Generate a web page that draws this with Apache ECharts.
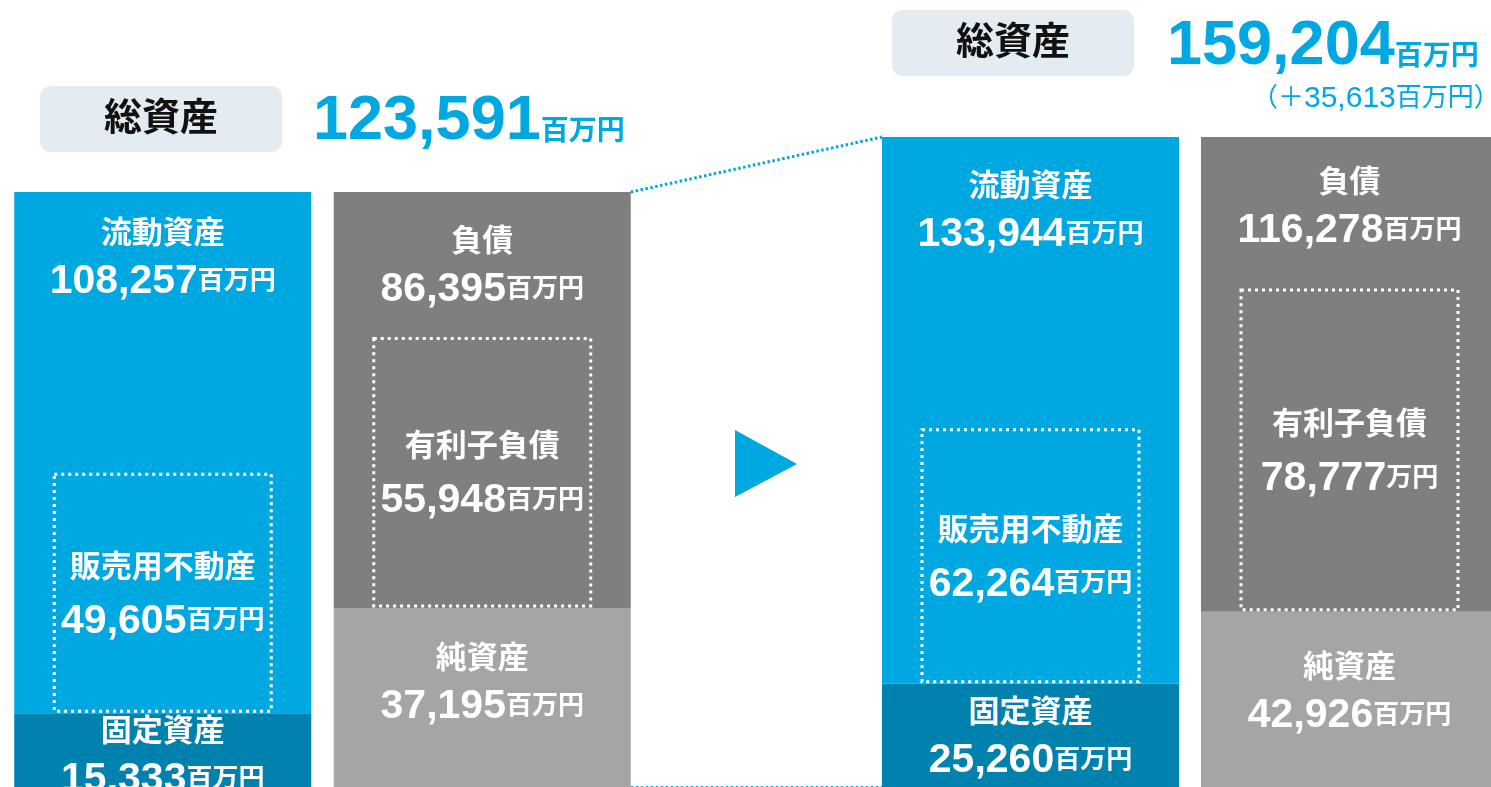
<!DOCTYPE html>
<html>
<head>
<meta charset="utf-8">
<script src="https://cdn.jsdelivr.net/npm/echarts@6/dist/echarts.min.js"></script>
<style>
  html, body { margin: 0; padding: 0; background: #ffffff; }
  #chart { width: 1491px; height: 787px; }
</style>
</head>
<body>
<div id="chart"></div>
<script>
// 貸借対照表の比較（前期末 → 当期末）
const columns = ['資産', '負債・純資産'];
const upperNames = ['流動資産', '負債'];
const lowerNames = ['固定資産', '純資産'];
const boxNames = ['販売用不動産', '有利子負債'];

// 前期末（百万円）
const prevTotal = 123591;
const prevUpper = [108257, 86395];
const prevLower = [15333, 37195];
const prevBox = [49605, 55948];
const prevBoxUnits = ['百万円', '百万円'];

// 当期末（百万円）
const currTotal = 159204;
const currUpper = [133944, 116278];
const currLower = [25260, 42926];
const currBox = [62264, 78777];
const currBoxUnits = ['百万円', '万円'];
const totalChange = 35613;

// ---- styling ----
const FONT = "'Liberation Sans', 'Noto Sans CJK JP', sans-serif";
const BLUE = '#00a8e2';
const upperColors = ['#00a8e2', '#7f7f7f'];
const lowerColors = ['#0081ae', '#a5a5a5'];
const BAR_WIDTH = 297;
const BOX_WIDTH = 217;

const fmt = v => v.toLocaleString('en-US');

const segRich = {
  t: { fontSize: 31, fontWeight: 'bold', color: '#fff', fontFamily: FONT, lineHeight: 47 },
  n: { fontSize: 41, fontWeight: 'bold', color: '#fff', fontFamily: FONT, lineHeight: 48 },
  u: { fontSize: 26, fontWeight: 'bold', color: '#fff', fontFamily: FONT }
};

function segItem(value, name, color, dist) {
  return {
    value: value,
    itemStyle: { color: color },
    label: {
      show: true,
      position: 'insideTop',
      distance: dist,
      formatter: '{t|' + name + '}\n{n|' + fmt(value) + '}{u|百万円}',
      rich: segRich
    }
  };
}

function barSeries(gi, values, names, colors, dists) {
  return {
    type: 'bar',
    xAxisIndex: gi,
    yAxisIndex: gi,
    stack: 'bs' + gi,
    barWidth: BAR_WIDTH,
    silent: true,
    animation: false,
    data: values.map((v, i) => segItem(v, names[i], colors[i], dists[i]))
  };
}

// 内訳（点線枠）: 下段の上に積み上げて描く
function boxSeries(gi, lower, box, units) {
  return {
    type: 'custom',
    xAxisIndex: gi,
    yAxisIndex: gi,
    z: 5,
    silent: true,
    animation: false,
    data: box.map((v, i) => [i, lower[i], v]),
    renderItem: function (params, api) {
      const i = params.dataIndex;
      const x = api.value(0);
      const base = api.value(1);
      const v = api.value(2);
      const pb = api.coord([x, base]);
      const pt = api.coord([x, base + v]);
      const cx = pb[0];
      const top = pt[1];
      const bottom = pb[1] - 2;
      return {
        type: 'group',
        children: [
          {
            type: 'rect',
            shape: { x: cx - BOX_WIDTH / 2, y: top, width: BOX_WIDTH, height: bottom - top },
            style: { fill: 'none', stroke: '#ffffff', lineWidth: 3, lineDash: [3, 4] }
          },
          {
            type: 'text',
            style: {
              x: cx,
              y: (top + bottom) / 2 + 2,
              align: 'center',
              verticalAlign: 'middle',
              text: '{t|' + boxNames[i] + '}\n{n|' + fmt(v) + '}{u|' + units[i] + '}',
              rich: {
                t: { fontSize: 31, fontWeight: 'bold', fill: '#fff', fontFamily: FONT, lineHeight: 53 },
                n: { fontSize: 41, fontWeight: 'bold', fill: '#fff', fontFamily: FONT, lineHeight: 53 },
                u: { fontSize: 26, fontWeight: 'bold', fill: '#fff', fontFamily: FONT }
              }
            }
          }
        ]
      };
    }
  };
}

function totalText(id, x, y, value) {
  return {
    type: 'text', id: id, x: x, y: y,
    style: {
      text: '{n|' + fmt(value) + '}{u|百万円}',
      verticalAlign: 'middle',
      align: 'left',
      rich: {
        n: { fontSize: 63, fontWeight: 'bold', fill: BLUE, fontFamily: FONT, lineHeight: 48 },
        u: { fontSize: 28, fontWeight: 'bold', fill: BLUE, fontFamily: FONT, verticalAlign: 'bottom' }
      }
    }
  };
}

function pill(id, x, y) {
  return {
    type: 'group', id: id, x: x, y: y,
    children: [
      { type: 'rect', shape: { x: 0, y: 0, width: 242, height: 66, r: 11 }, style: { fill: '#e4ebf1' } },
      { type: 'text', x: 121, y: 34, style: { text: '総資産', align: 'center', verticalAlign: 'middle', fontSize: 38, fontWeight: 'bold', fill: '#111111', fontFamily: FONT } }
    ]
  };
}

const chart = echarts.init(document.getElementById('chart'), null, { renderer: 'canvas' });

chart.setOption({
  animation: false,
  backgroundColor: '#ffffff',
  grid: [
    { left: 3, top: 192, width: 639, bottom: 0, outerBoundsMode: 'none' },
    { left: 871, top: 137, right: -18, bottom: 0, outerBoundsMode: 'none' }
  ],
  xAxis: [
    { gridIndex: 0, type: 'category', data: columns, show: false },
    { gridIndex: 1, type: 'category', data: columns, show: false }
  ],
  yAxis: [
    { gridIndex: 0, type: 'value', min: 0, max: prevTotal, show: false },
    { gridIndex: 1, type: 'value', min: 0, max: currTotal, show: false }
  ],
  series: [
    barSeries(0, prevLower, lowerNames, lowerColors, [-4, 28]),
    barSeries(0, prevUpper, upperNames, upperColors, [19, 27]),
    boxSeries(0, prevLower, prevBox, prevBoxUnits),
    barSeries(1, currLower, lowerNames, lowerColors, [6, 33]),
    barSeries(1, currUpper, upperNames, upperColors, [27, 23]),
    boxSeries(1, currLower, currBox, currBoxUnits)
  ],
  graphic: [
    pill('pillPrev', 40, 86),
    pill('pillCurr', 892, 10),
    totalText('totalPrev', 313, 122, prevTotal),
    totalText('totalCurr', 1167, 47, currTotal),
    {
      type: 'text', id: 'change', x: 1252, y: 99,
      style: {
        text: '{p|（＋}{d|' + fmt(totalChange) + '}{p|百万円）}',
        align: 'left', verticalAlign: 'middle',
        rich: {
          p: { fontSize: 26, fill: BLUE, fontFamily: FONT, lineHeight: 32 },
          d: { fontSize: 30, fill: BLUE, fontFamily: FONT, lineHeight: 32 }
        }
      }
    },
    {
      type: 'polygon', id: 'arrow',
      shape: { points: [[735, 430], [797, 464], [735, 497]] },
      style: { fill: BLUE }
    }
  ]
});

// 前期「負債・純資産」と当期「資産」を結ぶ点線
const half = BAR_WIDTH / 2;
const pTop = chart.convertToPixel({ gridIndex: 0 }, [1, prevTotal]);
const pBot = chart.convertToPixel({ gridIndex: 0 }, [1, 0]);
const cTop = chart.convertToPixel({ gridIndex: 1 }, [0, currTotal]);
const cBot = chart.convertToPixel({ gridIndex: 1 }, [0, 0]);

chart.setOption({
  graphic: [
    {
      type: 'line', id: 'linkTop',
      shape: { x1: pTop[0] + half, y1: pTop[1], x2: cTop[0] - half, y2: cTop[1] },
      style: { stroke: BLUE, lineWidth: 3, lineDash: [2.5, 2.5] }
    },
    {
      type: 'line', id: 'linkBottom',
      shape: { x1: pBot[0] + half, y1: pBot[1] + 0.5, x2: cBot[0] - half, y2: cBot[1] + 0.5 },
      style: { stroke: BLUE, lineWidth: 3, lineDash: [2.5, 2.5] }
    }
  ]
});
</script>
</body>
</html>
